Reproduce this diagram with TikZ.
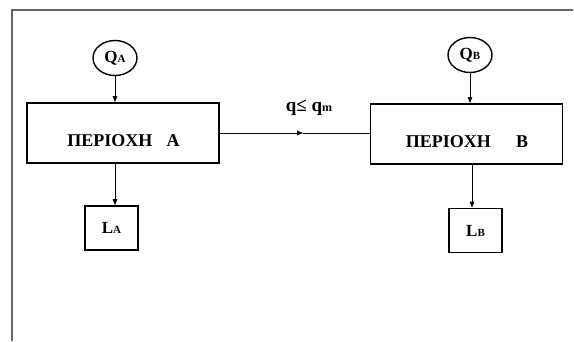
\documentclass[tikz,border=0pt]{standalone}
\usepackage{fontspec}
\setmainfont{Liberation Serif}
\usetikzlibrary{shapes.geometric,arrows.meta}
\begin{document}
\begin{tikzpicture}[x=1pt,y=-1pt,
  region/.style={draw,line width=1.8pt,minimum width=192pt,minimum height=60pt,inner sep=0pt},
  regtext/.style={inner sep=0pt,font=\bfseries\fontsize{18}{18}\selectfont},
  src/.style={draw,ellipse,line width=1.4pt,minimum width=44pt,minimum height=35pt,inner sep=0pt,font=\bfseries\fontsize{17}{17}\selectfont},
  loss/.style={draw,line width=1.8pt,minimum width=53pt,minimum height=44pt,inner sep=0pt,font=\bfseries\fontsize{17}{17}\selectfont},
  flow/.style={line width=0.8pt,-{Triangle[length=6pt,width=4.5pt]}},
  frame/.style={draw=black!60,line width=1.2pt}]
\useasboundingbox (0,0) rectangle (574,341);
\draw[frame] (573,10) -- (12,10) -- (12,341);
% nodes
\node[region] (a) at (123,133) {};
\node[regtext] (ta) at (123.5,141) {ΠΕΡΙΟΧΗ\hspace{0.8em}Α};
\node[region] (b) at (466.5,134) {};
\node[regtext] (tb) at (467,142) {ΠΕΡΙΟΧΗ\hspace{1.4em}Β};
\node[src] (qa) at (115,58) {Q{\fontsize{11}{11}\selectfont A}};
\node[src] (qb) at (470,55) {Q{\fontsize{11}{11}\selectfont B}};
\node[loss] (la) at (111.5,228) {L{\fontsize{11}{11}\selectfont A}};
\node[loss] (lb) at (475.5,230.5) {L{\fontsize{11}{11}\selectfont B}};
\node[inner sep=0pt,font=\bfseries\fontsize{19}{19}\selectfont] (q) at (309,108) {q≤ q{\fontsize{12}{12}\selectfont m}};
% connectors
\coordinate (xa) at (115,0);
\coordinate (xb) at (472,0);
\coordinate (mid) at (303,133);
\draw[flow] (qa.south) -- (qa.south |- a.north);
\draw[flow] (qb.south) -- (qb.south |- b.north);
\draw[flow] (xa |- a.south) -- (xa |- la.north);
\draw[flow] (xb |- b.south) -- (xb |- lb.north);
\draw[flow] (a.east) -- (mid);
\draw[line width=0.8pt] (mid) -- (mid -| b.west);
\end{tikzpicture}
\end{document}
